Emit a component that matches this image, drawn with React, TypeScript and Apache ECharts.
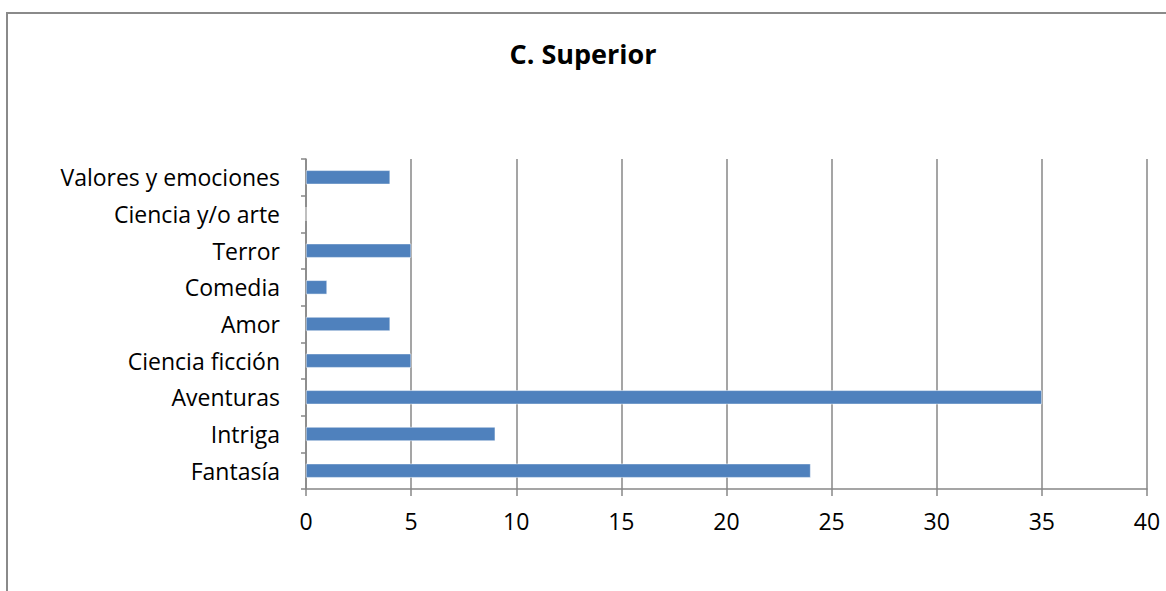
import React, { useEffect, useRef } from "react";
import * as echarts from "echarts";

const categories = [
  "Fantasía",
  "Intriga",
  "Aventuras",
  "Ciencia ficción",
  "Amor",
  "Comedia",
  "Terror",
  "Ciencia y/o arte",
  "Valores y emociones",
];
const values = [24, 9, 35, 5, 4, 1, 5, 0, 4];
const titleText = "C. Superior";
const axisMin = 0;
const axisMax = 40;
const axisInterval = 5;

const FONT = "'Open Sans', Lato, sans-serif";
const AXIS_COLOR = "#878787";

export default function App() {
  const ref = useRef<HTMLDivElement>(null);
  useEffect(() => {
    if (!ref.current) return;
    const chart = echarts.init(ref.current, undefined, { renderer: "svg" });
    chart.setOption({
      animation: false,
      backgroundColor: "#ffffff",
      title: {
        text: titleText,
        left: "center",
        top: 35,
        textStyle: { fontFamily: FONT, fontSize: 27, fontWeight: "bold", color: "#000" },
      },
      graphic: [
        {
          type: "rect",
          shape: { x: 7, y: 13, width: 1300, height: 700 },
          style: { fill: "none", stroke: "#8a8a8a", lineWidth: 2 },
          silent: true,
        },
      ],
      grid: { left: 306, right: 19, top: 159, bottom: 102, containLabel: false },
      xAxis: {
        type: "value",
        min: axisMin,
        max: axisMax,
        interval: axisInterval,
        axisLine: { show: true, lineStyle: { color: AXIS_COLOR, width: 1.5 } },
        axisTick: { show: true, length: 7, lineStyle: { color: AXIS_COLOR, width: 1.5 } },
        splitLine: { show: true, lineStyle: { color: AXIS_COLOR, width: 1.5 } },
        axisLabel: { fontFamily: FONT, fontSize: 23, color: "#000", margin: 20 },
      },
      yAxis: {
        type: "category",
        data: categories,
        axisLine: { show: true, lineStyle: { color: AXIS_COLOR, width: 1.5 } },
        axisTick: { show: true, length: 5, lineStyle: { color: AXIS_COLOR, width: 1.5 } },
        axisLabel: { fontFamily: FONT, fontSize: 23, color: "#000", margin: 26 },
        splitLine: { show: false },
      },
      series: [
        {
          type: "bar",
          data: values,
          barWidth: 14,
          itemStyle: { color: "#4F81BD", borderColor: "#ffffff", borderWidth: 0.5 },
        },
      ],
    });
    return () => chart.dispose();
  }, []);
  return (
    <div
      ref={ref}
      style={{ position: "fixed", left: 0, top: 0, width: 1166, height: 591 }}
    />
  );
}
